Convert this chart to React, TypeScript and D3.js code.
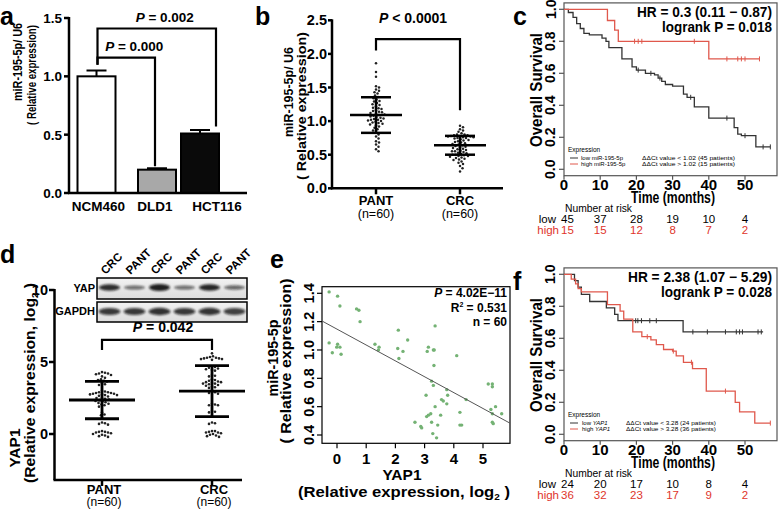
import React from 'react';
import * as d3 from 'd3';

const FONT = "'Liberation Sans', Arial, Helvetica, sans-serif";

// ---------- Panel a ----------
const aCats = ['NCM460', 'DLD1', 'HCT116'];
const aMeans = [1.0, 0.2, 0.51];
const aErrs = [0.05, 0.012, 0.03];
const aFills = ['#ffffff', '#a8a8a8', '#0a0a0a'];
const aTicks = [0, 0.5, 1.0, 1.5];
const aBrackets = [
  { from: 'NCM460', to: 'DLD1', level: 1.16, fromBase: 1.1, toBase: 0.23, label: '0.000' },
  { from: 'NCM460', to: 'HCT116', level: 1.41, fromBase: 1.1, toBase: 0.57, label: '0.002' },
];

// ---------- Panel b ----------
const bGroups = ['PANT', 'CRC'];
const bPant = [1.86, 1.73, 1.66, 1.52, 1.50, 1.47, 1.45, 1.43, 1.41, 1.38, 1.36, 1.34, 1.32, 1.30, 1.29, 1.27, 1.25, 1.24, 1.22, 1.20,
  1.19, 1.18, 1.16, 1.15, 1.14, 1.13, 1.12, 1.11, 1.10, 1.09, 1.08, 1.07, 1.06, 1.05, 1.04, 1.03, 1.02, 1.02, 1.01, 1.00,
  0.99, 0.98, 0.97, 0.96, 0.95, 0.94, 0.92, 0.90, 0.88, 0.86, 0.83, 0.80, 0.77, 0.74, 0.70, 0.68, 0.65, 0.62, 0.58, 0.55];
const bCrc = [0.93, 0.91, 0.88, 0.86, 0.84, 0.82, 0.80, 0.80, 0.79, 0.79, 0.78, 0.78, 0.77, 0.77, 0.76, 0.76, 0.75, 0.75, 0.74, 0.73,
  0.72, 0.71, 0.70, 0.69, 0.68, 0.67, 0.66, 0.65, 0.64, 0.63, 0.62, 0.61, 0.60, 0.59, 0.58, 0.57, 0.56, 0.55, 0.55, 0.54,
  0.53, 0.52, 0.51, 0.50, 0.50, 0.49, 0.48, 0.48, 0.47, 0.46, 0.45, 0.44, 0.43, 0.42, 0.40, 0.38, 0.36, 0.33, 0.30, 0.25];
const bMeans = [1.09, 0.64];
const bSds = [0.265, 0.14];
const bTicks = [0, 0.5, 1.0, 1.5, 2.0, 2.5];

// ---------- Panel c ----------
const cLow = [[0, 1], [1.2, 0.98], [2.5, 0.95], [3.5, 0.91], [4.5, 0.88], [5.5, 0.85], [7, 0.84], [10.5, 0.82], [11.6, 0.80], [12.4, 0.76],
  [16, 0.69], [18.8, 0.64], [20, 0.62], [22.5, 0.60], [25, 0.59], [26, 0.57], [27, 0.55], [28, 0.53], [30, 0.52], [33, 0.47],
  [34, 0.45], [36, 0.39], [40, 0.32], [47, 0.26], [48, 0.22], [49, 0.21], [53, 0.14]];
const cLowEnd = 57;
const cLowCens = [20.5, 24, 26.5, 35, 45, 50, 55, 57];
const cHigh = [[0, 1], [12, 0.93], [14, 0.87], [15, 0.80], [40, 0.69]];
const cHighEnd = 54;
const cHighCens = [19.5, 20.5, 21.5, 36, 45, 48, 49, 50, 54];
const cRiskLow = [45, 37, 28, 19, 10, 4];
const cRiskHigh = [15, 15, 12, 8, 7, 2];

// ---------- Panel d ----------
const dPant = [4.3, 4.25, 4.2, 4.2, 4.15, 4.1, 4.0, 3.9, 3.8, 3.75, 3.7, 3.65, 3.5, 3.45, 3.4, 3.0, 2.95, 2.9, 2.9, 2.85,
  2.85, 2.8, 2.8, 2.75, 2.75, 2.7, 2.7, 2.65, 2.6, 2.5, 2.45, 2.4, 2.35, 2.3, 2.25, 2.2, 2.15, 2.1, 2.05, 2.0,
  1.9, 1.5, 1.35, 1.3, 0.8, 0.75, 0.7, 0.65, 0.2, 0.15, 0.1, 0.05, 0.0, -0.05, -0.1, -0.15, -0.2, 0.1, 0.15, 2.5];
const dCrc = [5.6, 5.4, 5.35, 5.3, 5.3, 5.25, 5.2, 5.2, 5.15, 4.7, 4.65, 4.6, 4.5, 4.45, 4.4, 4.1, 4.05, 4.0, 3.8, 3.75,
  3.7, 3.65, 3.6, 3.5, 3.5, 3.45, 3.4, 3.35, 3.3, 3.25, 3.2, 2.95, 2.9, 2.85, 2.8, 2.1, 2.05, 2.0, 1.6, 1.55,
  1.5, 0.8, 0.75, 0.7, 0.2, 0.15, 0.1, 0.05, 0.0, -0.05, -0.1, -0.15, -0.2, 0.1, 0.2, 3.55, 3.6, 2.0, 5.25, 4.55];
const dMeans = [2.36, 2.98];
const dSds = [1.3, 1.77];
const dTicks = [0, 5, 10];
const blotLanes = ['CRC', 'PANT', 'CRC', 'PANT', 'CRC', 'PANT'];
const blotYap = [0.85, 0.4, 0.95, 0.4, 0.9, 0.45];
const blotGapdh = [0.85, 0.85, 0.9, 0.85, 0.88, 0.8];

// ---------- Panel e ----------
const eX = [-0.27, 0.02, 0.10, -0.27, -0.16, -0.01, 0.02, 0.10, 0.14, 0.67, 0.75, 0.79, 1.30, 1.44, 1.42, 2.10, 2.08, 2.12, 2.26, 2.42,
  2.67, 2.87, 2.90, 3.07, 3.13, 3.21, 3.05, 3.09, 3.13, 3.36, 3.30, 3.33, 3.32, 3.24, 3.30, 3.24, 3.28, 3.36, 3.41, 3.58,
  3.64, 3.76, 3.79, 3.76, 4.10, 4.21, 4.21, 4.27, 4.42, 5.18, 5.32, 5.32, 5.27, 5.32, 5.32, 5.35, 5.43, 5.64, 3.45, 3.55];
const eY = [1.41, 1.38, 1.31, 1.05, 0.98, 1.02, 1.04, 1.02, 0.97, 1.29, 1.28, 1.20, 1.04, 1.02, 1.00, 1.14, 1.01, 0.94, 0.99, 1.07,
  0.49, 0.46, 0.45, 0.53, 0.54, 0.55, 0.68, 0.99, 1.02, 1.17, 1.00, 1.00, 0.89, 0.78, 0.75, 0.49, 0.41, 0.60, 0.38, 0.65,
  0.64, 0.72, 0.68, 0.62, 0.96, 0.56, 0.47, 0.47, 0.65, 0.76, 0.76, 0.74, 0.58, 0.55, 0.49, 0.48, 0.60, 0.55, 0.47, 0.54];
const eFit = { intercept: 1.147, slope: -0.112 };
const eXTicks = [0, 1, 2, 3, 4, 5];
const eYTicks = [0.4, 0.6, 0.8, 1.0, 1.2, 1.4];

// ---------- Panel f ----------
const fLow = [[0, 1], [2.9, 0.96], [3.9, 0.92], [4.8, 0.875], [7.1, 0.83], [11.7, 0.79], [14, 0.75], [14.9, 0.71], [32.9, 0.64]];
const fLowEnd = 55;
const fLowCens = [19.8, 20.4, 21.4, 23.7, 25.5, 35.6, 39.6, 44.6, 47.6, 48.5, 49.3, 53.6, 54.5];
const fHigh = [[0, 1], [2, 0.97], [3.2, 0.94], [3.9, 0.91], [4.8, 0.89], [12, 0.81], [15.5, 0.77], [16.5, 0.72], [19, 0.64],
  [21.5, 0.61], [24, 0.59], [25.5, 0.56], [27.5, 0.53], [30, 0.52], [31, 0.49], [33, 0.45], [35.5, 0.41], [39.3, 0.27],
  [47.3, 0.20], [48.5, 0.14], [52.7, 0.07]];
const fHighEnd = 57;
const fHighCens = [23, 30.2, 35.2, 44.6, 57];
const fRiskLow = [24, 20, 17, 10, 8, 4];
const fRiskHigh = [36, 32, 23, 17, 9, 2];

const kmXTicks = [0, 10, 20, 30, 40, 50];
const kmYTicks = [0, 0.2, 0.4, 0.6, 0.8, 1.0];

const RED = '#e0584c';
const RISKRED = '#e0352b';

function swarm(vals: number[], y: (v: number) => number, d: number): number[] {
  const idx = vals.map((_, i) => i).sort((a, b) => vals[b] - vals[a]);
  const placed: { x: number; y: number }[] = [];
  const out = new Array(vals.length).fill(0);
  for (const i of idx) {
    const py = y(vals[i]);
    let best = 0;
    for (let k = 0; k < 400; k++) {
      const cand = k === 0 ? 0 : (k % 2 === 1 ? Math.ceil(k / 2) * 0.5 : -Math.ceil(k / 2) * 0.5);
      const ok = placed.every(p => {
        const dy = p.y - py, dx = p.x - cand;
        return dx * dx + dy * dy >= d * d;
      });
      if (ok) { best = cand; break; }
    }
    placed.push({ x: best, y: py });
    out[i] = best;
  }
  return out;
}

function RotText({ x, y, children, size, len, weight = 'bold', anchor = 'middle' }: any) {
  return (
    <text x={x} y={y} fontSize={size} fontWeight={weight} textAnchor={anchor}
      transform={`rotate(-90,${x},${y})`} textLength={len} lengthAdjust={len ? 'spacingAndGlyphs' : undefined}>
      {children}
    </text>
  );
}

function KMPanel({ off, letter, low, lowEnd, lowCens, high, highEnd, highCens, riskLow, riskHigh, hr, lr, legend }: any) {
  const x = d3.scaleLinear().domain([0, 50]).range([564, 745]);
  const y = d3.scaleLinear().domain([0, 1]).range([169.3 + off, 9.3 + off]);
  const path = (steps: number[][], end: number) => {
    const pts = [...steps, [end, steps[steps.length - 1][1]]];
    return d3.line<number[]>().x(d => x(d[0])).y(d => y(d[1])).curve(d3.curveStepAfter)(pts) || '';
  };
  const sAt = (steps: number[][], t: number) => {
    let s = 1;
    for (const [tt, ss] of steps) if (tt <= t) s = ss;
    return s;
  };
  const boxTop = y(1.04), boxBot = y(-0.04);
  return (
    <g>
      <text x={513} y={25 + off} fontSize={25} fontWeight="bold">{letter}</text>
      <rect x={564} y={boxTop} width={213} height={boxBot - boxTop} fill="none" stroke="#555" strokeWidth={1.2} />
      {kmYTicks.map(t => (
        <g key={t}>
          <line x1={559} x2={564} y1={y(t)} y2={y(t)} stroke="#555" strokeWidth={1.2} />
          <RotText x={555.5} y={y(t)} size={14}>{t.toFixed(1)}</RotText>
        </g>
      ))}
      {kmXTicks.map(t => (
        <g key={t}>
          <line x1={x(t)} x2={x(t)} y1={boxBot} y2={boxBot + 4} stroke="#555" strokeWidth={1.2} />
          <text x={x(t)} y={190 + off} fontSize={15} fontWeight="bold" textAnchor="middle">{t}</text>
        </g>
      ))}
      <RotText x={542} y={90 + off} size={16} len={114}>Overall Survival</RotText>
      <text x={673} y={203 + off} fontSize={16} fontWeight="bold" textAnchor="middle" textLength={84} lengthAdjust="spacingAndGlyphs">Time (months)</text>
      <path d={path(low, lowEnd)} fill="none" stroke="#333" strokeWidth={1.3} />
      <path d={path(high, highEnd)} fill="none" stroke={RED} strokeWidth={1.3} />
      {lowCens.map((t: number, i: number) => (
        <line key={'l' + i} x1={x(t)} x2={x(t)} y1={y(sAt(low, t)) - 2.5} y2={y(sAt(low, t)) + 2.5} stroke="#333" strokeWidth={1} />
      ))}
      {highCens.map((t: number, i: number) => (
        <line key={'h' + i} x1={x(t)} x2={x(t)} y1={y(sAt(high, t)) - 2.5} y2={y(sAt(high, t)) + 2.5} stroke={RED} strokeWidth={1} />
      ))}
      <text x={772} y={17 + off} fontSize={14} fontWeight="bold" textAnchor="end" textLength={hr.len} lengthAdjust="spacingAndGlyphs">{hr.text}</text>
      <text x={772} y={32 + off} fontSize={14} fontWeight="bold" textAnchor="end" textLength={lr.len} lengthAdjust="spacingAndGlyphs">{lr.text}</text>
      {/* legend */}
      <text x={568} y={152 + off} fontSize={6.5}>Expression</text>
      <line x1={570} x2={578} y1={158 + off} y2={158 + off} stroke="#333" strokeWidth={1} />
      <line x1={570} x2={578} y1={164 + off} y2={164 + off} stroke={RED} strokeWidth={1} />
      {legend}
      {/* risk table */}
      <text x={565} y={211.5 + off} fontSize={10.5} textLength={67} lengthAdjust="spacingAndGlyphs">Number at risk</text>
      <text x={556} y={223 + off} fontSize={11.5} textAnchor="end">low</text>
      <text x={559} y={233.5 + off} fontSize={11.5} textAnchor="end" fill={RISKRED}>high</text>
      {kmXTicks.map((t, i) => (
        <g key={'r' + t}>
          <text x={x(t) + (i === 0 ? 3.5 : 0)} y={223 + off} fontSize={11.5} textAnchor="middle">{riskLow[i]}</text>
          <text x={x(t) + (i === 0 ? 3.5 : 0)} y={233.5 + off} fontSize={11.5} textAnchor="middle" fill={RISKRED}>{riskHigh[i]}</text>
        </g>
      ))}
    </g>
  );
}

export default function App() {
  // ---- a ----
  const yA = d3.scaleLinear().domain([0, 1.5]).range([193, 18]);
  const xA = d3.scaleOrdinal<string, number>().domain(aCats).range([96.5, 157, 200]);
  const aLabelShift: Record<string, number> = { NCM460: 2, DLD1: -2, HCT116: 17 };

  // ---- b ----
  const yB = d3.scaleLinear().domain([0, 2.5]).range([188.3, 20.3]);
  const xB = d3.scaleOrdinal<string, number>().domain(bGroups).range([376, 460]);
  const bData = [bPant, bCrc];
  const bOff = bData.map(v => swarm(v, yB, 3.0));

  // ---- d ----
  const yD = d3.scaleLinear().domain([0, 10]).range([434, 290]);
  const xD = d3.scaleOrdinal<string, number>().domain(bGroups).range([102, 212]);
  const dData = [dPant, dCrc];
  const dOff = dData.map(v => swarm(v, yD, 3.0));
  const lane = d3.scaleBand<string>().domain(blotLanes.map((_, i) => String(i))).range([97, 247]);

  // ---- e ----
  const xE = d3.scaleLinear().domain([0, 5]).range([337, 483]);
  const yE = d3.scaleLinear().domain([0.4, 1.4]).range([435, 293.3]);
  const eL = 322, eR = 510, eT = 286.7, eB = 443.3;
  const fx0 = xE.invert(eL), fx1 = xE.invert(eR);

  return (
    <svg width={779} height={510} style={{ position: 'absolute', left: 0, top: 0, background: '#fff' }} fontFamily={FONT}>
      <defs>
        <filter id="blur" x="-50%" y="-50%" width="200%" height="200%">
          <feGaussianBlur stdDeviation="0.9" />
        </filter>
        <linearGradient id="blotbg" x1="0" x2="0" y1="0" y2="1">
          <stop offset="0" stopColor="#f2f2f2" />
          <stop offset="1" stopColor="#dcdcdc" />
        </linearGradient>
      </defs>
      <rect x={0} y={0} width={779} height={510} fill="#fff" />

      {/* ================= Panel a ================= */}
      <text x={0} y={25} fontSize={25} fontWeight="bold">a</text>
      {aCats.map((c, i) => {
        const cx = xA(c);
        const top = yA(aMeans[i] + aErrs[i]);
        return (
          <g key={c}>
            <line x1={cx} x2={cx} y1={yA(aMeans[i])} y2={top} stroke="#000" strokeWidth={2} />
            <line x1={cx - 10} x2={cx + 10} y1={top} y2={top} stroke="#000" strokeWidth={2} />
            <rect x={cx - 19} y={yA(aMeans[i])} width={38} height={yA(0) - yA(aMeans[i])} fill={aFills[i]} stroke="#000" strokeWidth={2} />
            <text x={cx + aLabelShift[c]} y={211} fontSize={13.5} fontWeight="bold" textAnchor="middle">{c}</text>
          </g>
        );
      })}
      <line x1={69} x2={69} y1={yA(0) + 1} y2={yA(1.5) - 1} stroke="#000" strokeWidth={2.5} />
      <line x1={68} x2={247} y1={yA(0)} y2={yA(0)} stroke="#000" strokeWidth={2.5} />
      {aTicks.map(t => (
        <g key={t}>
          <line x1={64} x2={69} y1={yA(t)} y2={yA(t)} stroke="#000" strokeWidth={2.5} />
          <text x={62} y={yA(t) + 5} fontSize={13.5} fontWeight="bold" textAnchor="end">{t.toFixed(1)}</text>
        </g>
      ))}
      {aBrackets.map(b => {
        const lx = xA(b.from) + 1;
        const rx = xA(b.to) + (b.to === 'HCT116' ? 16 : -2);
        return (
          <g key={b.label}>
            <path d={`M${lx},${yA(b.fromBase)}V${yA(b.level)}H${rx}V${yA(b.toBase)}`} fill="none" stroke="#000" strokeWidth={2.2} />
            <text x={(lx + rx) / 2 + 8} y={yA(b.level) - 7} fontSize={13.5} fontWeight="bold" textAnchor="middle">
              <tspan fontStyle="italic">P</tspan> = {b.label}
            </text>
          </g>
        );
      })}
      <RotText x={22} y={62} size={12} len={78}>miR-195-5p/ U6</RotText>
      <RotText x={36} y={75} size={12} len={100}>( Relative expression)</RotText>

      {/* ================= Panel b ================= */}
      <text x={255} y={25} fontSize={25} fontWeight="bold">b</text>
      <line x1={332} x2={332} y1={yB(0) + 1} y2={yB(2.5) - 1} stroke="#000" strokeWidth={2.5} />
      <line x1={331} x2={503} y1={yB(0)} y2={yB(0)} stroke="#000" strokeWidth={2.5} />
      {bTicks.map(t => (
        <g key={t}>
          <line x1={328} x2={332} y1={yB(t)} y2={yB(t)} stroke="#000" strokeWidth={2.5} />
          <text x={327} y={yB(t) + 5} fontSize={14.5} fontWeight="bold" textAnchor="end">{t.toFixed(1)}</text>
        </g>
      ))}
      {bGroups.map((g, gi) => {
        const cx = xB(g);
        return (
          <g key={g}>
            <line x1={cx} x2={cx} y1={yB(0)} y2={yB(0) + 6} stroke="#000" strokeWidth={2.5} />
            <text x={cx} y={205} fontSize={13} fontWeight="bold" textAnchor="middle">{g}</text>
            <text x={cx} y={217.5} fontSize={12.5} textAnchor="middle">(n=60)</text>
            {bData[gi].map((v, i) => (
              <circle key={i} cx={cx + bOff[gi][i]} cy={yB(v)} r={1.25} fill="#222" />
            ))}
            <line x1={cx} x2={cx} y1={yB(bMeans[gi] - bSds[gi])} y2={yB(bMeans[gi] + bSds[gi])} stroke="#000" strokeWidth={2.5} />
            <line x1={cx - 26} x2={cx + 26} y1={yB(bMeans[gi])} y2={yB(bMeans[gi])} stroke="#000" strokeWidth={2.5} />
            <line x1={cx - 15} x2={cx + 15} y1={yB(bMeans[gi] + bSds[gi])} y2={yB(bMeans[gi] + bSds[gi])} stroke="#000" strokeWidth={2.5} />
            <line x1={cx - 15} x2={cx + 15} y1={yB(bMeans[gi] - bSds[gi])} y2={yB(bMeans[gi] - bSds[gi])} stroke="#000" strokeWidth={2.5} />
          </g>
        );
      })}
      <path d={`M${xB('PANT')},${yB(2.05)}V${yB(2.22)}H${xB('CRC')}V${yB(1.16)}`} fill="none" stroke="#000" strokeWidth={2.2} />
      <text x={413} y={22.5} fontSize={14} fontWeight="bold" textAnchor="middle">
        <tspan fontStyle="italic">P</tspan> &lt; 0.0001
      </text>
      <RotText x={293} y={92} size={13.5} len={90}>miR-195-5p/ U6</RotText>
      <RotText x={306} y={106} size={13.5} len={148}>( Relative  expression)</RotText>

      {/* ================= Panel c ================= */}
      <KMPanel off={0} letter="c" low={cLow} lowEnd={cLowEnd} lowCens={cLowCens} high={cHigh} highEnd={cHighEnd} highCens={cHighCens}
        riskLow={cRiskLow} riskHigh={cRiskHigh}
        hr={{ text: 'HR = 0.3 (0.11 \u2212 0.87)', len: 135 }} lr={{ text: 'logrank P = 0.018', len: 110 }}
        legend={<g fontSize={6}>
          <text x={581} y={160}>low miR-195-5p</text>
          <text x={642} y={160} textLength={93} lengthAdjust="spacingAndGlyphs">ΔΔCt value &lt; 1.02 (45 patients)</text>
          <text x={581} y={166}>high miR-195-5p</text>
          <text x={642} y={166} textLength={93} lengthAdjust="spacingAndGlyphs">ΔΔCt value &gt; 1.02 (15 patients)</text>
        </g>} />

      {/* ================= Panel d ================= */}
      <text x={0} y={263} fontSize={25} fontWeight="bold">d</text>
      <line x1={54.5} x2={54.5} y1={480} y2={yD(10) - 1} stroke="#000" strokeWidth={2.5} />
      <line x1={53.5} x2={242} y1={480} y2={480} stroke="#000" strokeWidth={2.5} />
      {dTicks.map(t => (
        <g key={t}>
          <line x1={49} x2={54.5} y1={yD(t)} y2={yD(t)} stroke="#000" strokeWidth={2.5} />
          <text x={48} y={yD(t) + 5} fontSize={14.5} fontWeight="bold" textAnchor="end">{t}</text>
        </g>
      ))}
      {bGroups.map((g, gi) => {
        const cx = xD(g);
        return (
          <g key={g}>
            <line x1={cx} x2={cx} y1={480} y2={486} stroke="#000" strokeWidth={2.5} />
            <text x={cx + 2} y={494} fontSize={13} fontWeight="bold" textAnchor="middle">{g}</text>
            <text x={cx + 2} y={506} fontSize={12} textAnchor="middle">(n=60)</text>
            {dData[gi].map((v, i) => (
              <circle key={i} cx={cx + dOff[gi][i]} cy={yD(v)} r={1.3} fill="#222" />
            ))}
            <line x1={cx} x2={cx} y1={yD(dMeans[gi] - dSds[gi])} y2={yD(dMeans[gi] + dSds[gi])} stroke="#000" strokeWidth={2.8} />
            <line x1={cx - 33} x2={cx + 33} y1={yD(dMeans[gi])} y2={yD(dMeans[gi])} stroke="#000" strokeWidth={2.8} />
            <line x1={cx - 17} x2={cx + 17} y1={yD(dMeans[gi] + dSds[gi])} y2={yD(dMeans[gi] + dSds[gi])} stroke="#000" strokeWidth={2.8} />
            <line x1={cx - 17} x2={cx + 17} y1={yD(dMeans[gi] - dSds[gi])} y2={yD(dMeans[gi] - dSds[gi])} stroke="#000" strokeWidth={2.8} />
          </g>
        );
      })}
      <path d={`M${xD('PANT')},${yD(5.83)}V${yD(6.53)}H${xD('CRC')}V${yD(5.83)}`} fill="none" stroke="#000" strokeWidth={2.2} />
      <text x={163} y={332} fontSize={14} fontWeight="bold" textAnchor="middle">
        <tspan fontStyle="italic">P</tspan>  = 0.042
      </text>
      <RotText x={20} y={448} size={15.5}>YAP1</RotText>
      <RotText x={35} y={383} size={14.5} len={200}>
        (Relative expression, log<tspan fontSize={9} dy={3}>2</tspan><tspan dy={-3}> )</tspan>
      </RotText>
      {/* western blot */}
      <rect x={97} y={278} width={150} height={21} fill="url(#blotbg)" stroke="#000" strokeWidth={1.5} />
      <rect x={97} y={302} width={150} height={20} fill="url(#blotbg)" stroke="#000" strokeWidth={1.5} />
      <g filter="url(#blur)">
        {blotLanes.map((l, i) => {
          const cx = (lane(String(i)) || 0) + lane.bandwidth() / 2;
          return (
            <g key={i}>
              <ellipse cx={cx} cy={287.5} rx={10.5} ry={1 + blotYap[i] * 2.6} fill="#111" opacity={0.35 + blotYap[i] * 0.6} />
              <ellipse cx={cx} cy={311.5} rx={11} ry={1 + blotGapdh[i] * 3} fill="#111" opacity={0.3 + blotGapdh[i] * 0.6} />
            </g>
          );
        })}
      </g>
      {blotLanes.map((l, i) => {
        const cx = (lane(String(i)) || 0) + lane.bandwidth() / 2;
        const tx = cx - 4, ty = 275;
        return (
          <text key={'t' + i} x={tx} y={ty} fontSize={11.5} fontWeight="bold" transform={`rotate(-45,${tx},${ty})`}>{l}</text>
        );
      })}
      <text x={95} y={292} fontSize={11} fontWeight="bold" textAnchor="end">YAP</text>
      <text x={95} y={315} fontSize={11} fontWeight="bold" textAnchor="end">GAPDH</text>

      {/* ================= Panel e ================= */}
      <text x={270} y={268} fontSize={25} fontWeight="bold">e</text>
      <rect x={eL} y={eT} width={eR - eL} height={eB - eT} fill="none" stroke="#000" strokeWidth={1.2} />
      {eYTicks.map(t => (
        <g key={t}>
          <line x1={eL - 5} x2={eL} y1={yE(t)} y2={yE(t)} stroke="#000" strokeWidth={1.2} />
          <RotText x={314} y={yE(t)} size={14.5}>{t.toFixed(1)}</RotText>
        </g>
      ))}
      {eXTicks.map(t => (
        <g key={t}>
          <line x1={xE(t)} x2={xE(t)} y1={eB} y2={eB + 5} stroke="#000" strokeWidth={1.2} />
          <text x={xE(t)} y={464} fontSize={15} fontWeight="bold" textAnchor="middle">{t}</text>
        </g>
      ))}
      {eX.map((v, i) => (
        <circle key={i} cx={xE(v)} cy={yE(eY[i])} r={1.7} fill="#74b274" />
      ))}
      <line x1={eL} x2={eR} y1={yE(eFit.intercept + eFit.slope * fx0)} y2={yE(eFit.intercept + eFit.slope * fx1)} stroke="#555" strokeWidth={1} />
      <text x={507} y={297} fontSize={12} fontWeight="bold" textAnchor="end"><tspan fontStyle="italic">P</tspan> = 4.02E−11</text>
      <text x={507} y={312} fontSize={12} fontWeight="bold" textAnchor="end">R<tspan fontSize={7} dy={-5}>2</tspan><tspan dy={5}> = 0.531</tspan></text>
      <text x={507} y={326} fontSize={12} fontWeight="bold" textAnchor="end">n = 60</text>
      <text x={402} y={480} fontSize={15.5} fontWeight="bold" textAnchor="middle">YAP1</text>
      <text x={404} y={497} fontSize={15} fontWeight="bold" textAnchor="middle" textLength={212} lengthAdjust="spacingAndGlyphs">
        (Relative expression, log<tspan fontSize={9} dy={3}>2</tspan><tspan dy={-3}> )</tspan>
      </text>
      <RotText x={278} y={358} size={14} len={77}>miR-195-5p</RotText>
      <RotText x={291} y={361} size={14} len={165}>( Relative  expression)</RotText>

      {/* ================= Panel f ================= */}
      <KMPanel off={265} letter="f" low={fLow} lowEnd={fLowEnd} lowCens={fLowCens} high={fHigh} highEnd={fHighEnd} highCens={fHighCens}
        riskLow={fRiskLow} riskHigh={fRiskHigh}
        hr={{ text: 'HR = 2.38 (1.07 \u2212 5.29)', len: 144 }} lr={{ text: 'logrank P = 0.028', len: 111 }}
        legend={<g fontSize={6}>
          <text x={582} y={425}>low <tspan fontStyle="italic">YAP1</tspan></text>
          <text x={626} y={425} textLength={90} lengthAdjust="spacingAndGlyphs">ΔΔCt value &lt; 3.28 (24 patients)</text>
          <text x={582} y={431}>high <tspan fontStyle="italic">YAP1</tspan></text>
          <text x={626} y={431} textLength={90} lengthAdjust="spacingAndGlyphs">ΔΔCt value &gt; 3.28 (36 patients)</text>
        </g>} />
    </svg>
  );
}
